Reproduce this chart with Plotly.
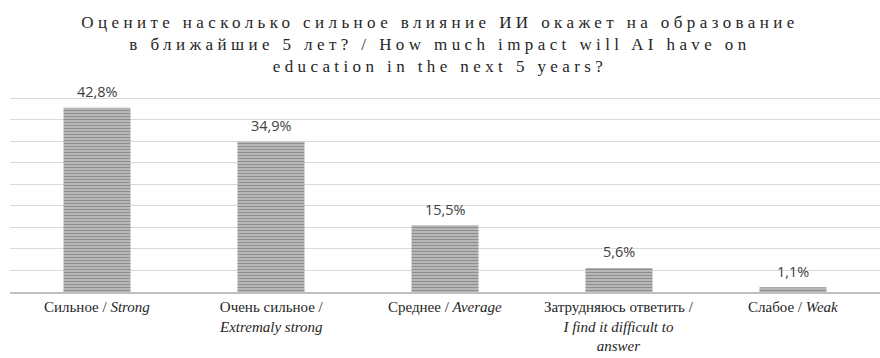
import plotly.graph_objects as go

categories = [
    "Сильное / <i>Strong</i>",
    "Очень сильное /<br><i>Extremaly strong</i>",
    "Среднее / <i>Average</i>",
    "Затрудняюсь ответить /<br><i>I find it difficult to</i><br><i>answer</i>",
    "Слабое / <i>Weak</i>",
]
values = [42.8, 34.9, 15.5, 5.6, 1.1]
labels = ["42,8%", "34,9%", "15,5%", "5,6%", "1,1%"]

title_lines = [
    "Оцените насколько сильное влияние ИИ окажет на образование",
    "в ближайшие 5 лет? / How much impact will AI have on",
    "education in the next 5 years?",
]

SERIF = "Liberation Serif"
SANS = "Open Sans"

fig = go.Figure(go.Bar(
    x=categories, y=values,
    width=0.385,
    marker=dict(
        color="#bdbdbd",
        line=dict(width=0),
        pattern=dict(shape="-", fgcolor="#5a5a5a", bgcolor="#c4c4c4", size=3, solidity=0.5),
    ),
    hoverinfo="x+y",
))

# value labels above bars
for cat, val, lab in zip(categories, values, labels):
    fig.add_annotation(x=cat, y=val, xref="x", yref="y", text=lab, showarrow=False,
                       yanchor="middle", yshift=16,
                       font=dict(family=SANS, size=14.5, color="#404040"))

# category labels below the axis
for cat in categories:
    fig.add_annotation(x=cat, y=0, xref="x", yref="paper", text=cat, showarrow=False,
                       yanchor="top", yshift=-6, borderpad=0, align="center",
                       font=dict(family=SERIF, size=15, color="#262626"))

fig.update_layout(
    width=880, height=358,
    margin=dict(l=10, r=0, t=94, b=66),
    paper_bgcolor="white", plot_bgcolor="white",
    showlegend=False,
    title=dict(
        text="<span style='letter-spacing:4.4px'>" + "<br>".join(title_lines) + "</span>",
        x=0.5, xanchor="center", xref="container",
        y=1 - 28 / 358, yanchor="top", yref="container",
        font=dict(family=SERIF, size=17, color="#262626"),
    ),
    font=dict(family=SERIF, size=13, color="#262626"),
    xaxis=dict(
        showgrid=False, showline=True, linecolor="#bfbfbf", linewidth=2,
        ticks="", showticklabels=False,
    ),
    yaxis=dict(
        range=[0, 46], tickvals=[5, 10, 15, 20, 25, 30, 35, 40, 45],
        showgrid=True, gridcolor="#d9d9d9", gridwidth=1,
        showticklabels=False, zeroline=False, showline=False, ticks="",
    ),
)

fig.write_html("out.html")
